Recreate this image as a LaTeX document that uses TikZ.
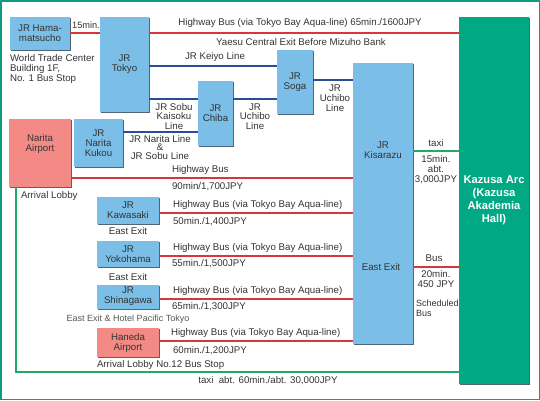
\documentclass[tikz,border=0pt]{standalone}
\usepackage{fontspec}
\setmainfont{Liberation Sans}
\usetikzlibrary{shadows}
\definecolor{jrblue}{HTML}{7BBEE8}
\definecolor{shadowc}{HTML}{4F6579}
\definecolor{pinkbox}{HTML}{F38A86}
\definecolor{redline}{HTML}{D8363F}
\definecolor{blueline}{HTML}{2B4C9B}
\definecolor{greenbox}{HTML}{00A884}
\definecolor{greenline}{HTML}{1FAA66}
\definecolor{frame}{HTML}{0E9C7E}
\definecolor{txt}{HTML}{333333}
\definecolor{txtl}{HTML}{555555}
\begin{document}
\begin{tikzpicture}[x=1pt,y=-1pt,
  every node/.style={inner sep=0pt,outer sep=0pt,text=txt,font=\fontsize{9.7}{10}\selectfont,align=center},
  boxbase/.style={draw=none,drop shadow={shadow xshift=1pt,shadow yshift=-1pt,fill=shadowc,opacity=1}},
  jrbox/.style={boxbase,fill=jrblue},
  pkbox/.style={boxbase,fill=pinkbox},
  redl/.style={draw=redline,line width=2.3pt},
  bluel/.style={draw=blueline,line width=2pt},
  greenl/.style={draw=greenline,line width=2pt},
  lleft/.style={anchor=west,align=left}]
\useasboundingbox (0,0) rectangle (540,400);
\draw[frame,line width=1.5pt] (0.75,0.75) rectangle (539.25,399.25);

% boxes
\node[jrbox,minimum width=60pt,minimum height=33pt] (hama) at (40,33.5) {JR Hama-\\matsucho};
\node[jrbox,minimum width=49pt,minimum height=95pt] (tokyo) at (124.5,64.5) {JR\\Tokyo};
\node[jrbox,minimum width=36pt,minimum height=64pt] (soga) at (295,82) {JR\\Soga};
\node[jrbox,minimum width=35pt,minimum height=65pt] (chiba) at (215.5,113.5) {JR\\Chiba};
\node[jrbox,minimum width=60pt,minimum height=281pt] (kisarazu) at (383,203.5) {};
\node[boxbase,fill=greenbox,minimum width=70pt,minimum height=367pt,text=white,font=\bfseries\fontsize{11.2}{13}\selectfont] (kazusa) at (494,200.5) {Kazusa Arc\\(Kazusa\\Akademia\\Hall)};
\node[pkbox,minimum width=62pt,minimum height=68pt] (narita) at (40,153) {};
\node[jrbox,minimum width=49pt,minimum height=48pt] (kukou) at (98.5,143) {JR\\Narita\\Kukou};
\node[jrbox,minimum width=62pt,minimum height=27pt] (kawasaki) at (128,210.5) {JR\\Kawasaki};
\node[jrbox,minimum width=62pt,minimum height=26pt] (yokohama) at (128,254) {JR\\Yokohama};
\node[jrbox,minimum width=62pt,minimum height=24pt] (shinagawa) at (128,296.5) {JR\\Shinagawa};
\node[pkbox,minimum width=62pt,minimum height=29pt] (haneda) at (128,342.5) {Haneda\\Airport};

% texts inside tall boxes
\node (naritat) at (40,144) {Narita\\Airport};
\node (kist) at (383,150) {JR\\Kisarazu};
\node (kise) at (381,267) {East Exit};

% connectors
\draw[redl] (hama.east |- {0,33}) -- (tokyo.west |- {0,33});
\draw[redl] (tokyo.east |- {0,33}) -- (kazusa.west |- {0,33});
\draw[bluel] (tokyo.east |- {0,66}) -- (soga.west |- {0,66});
\draw[bluel] (tokyo.east |- {0,99}) -- (chiba.west |- {0,99});
\draw[bluel] (chiba.east |- {0,99}) -- (soga.west |- {0,99});
\draw[bluel] (soga.east |- {0,80}) -- (kisarazu.west |- {0,80});
\draw[bluel] (kukou.east |- {0,132}) -- (chiba.west |- {0,132});
\draw[redl] (narita.east |- {0,178}) -- (kisarazu.west |- {0,178});
\draw[greenl] (kisarazu.east |- {0,151}) -- (kazusa.west |- {0,151});
\draw[redl] (kisarazu.east |- {0,267}) -- (kazusa.west |- {0,267});
\draw[redl] (kawasaki.east |- {0,213}) -- (kisarazu.west |- {0,213});
\draw[redl] (yokohama.east |- {0,256}) -- (kisarazu.west |- {0,256});
\draw[redl] (shinagawa.east |- {0,299}) -- (kisarazu.west |- {0,299});
\draw[redl] (haneda.east |- {0,341}) -- (kisarazu.west |- {0,341});
\draw[greenl] (narita.south -| {16,0}) -- (16,372) -- (kazusa.west |- {0,372});

% labels
\node[font=\fontsize{9.2}{10}\selectfont] (l15) at (86,25) {15min.};
\node (lhw1) at (300,23) {Highway Bus (via Tokyo Bay Aqua-line) 65min./1600JPY};
\node (lyae) at (301,42) {Yaesu Central Exit Before Mizuho Bank};
\node (lkei) at (215,57) {JR Keiyo Line};
\node[font=\fontsize{9.7}{9.5}\selectfont] (lsobu) at (174,116.5) {JR Sobu\\Kaisoku\\Line};
\node[font=\fontsize{9.7}{9.5}\selectfont] (luch1) at (255,116.5) {JR\\Uchibo\\Line};
\node[font=\fontsize{9.7}{10}\selectfont] (luch2) at (335,98) {JR\\Uchibo\\Line};
\node[font=\fontsize{9.7}{8.5}\selectfont] (lnar) at (160,147.5) {JR Narita Line\\\&\\JR Sobu Line};
\node[lleft] (lnhw) at (172,170) {Highway Bus};
\node[lleft] (lnpr) at (172,187) {90min/1,700JPY};
\node[lleft] (lkwhw) at (173,205) {Highway Bus (via Tokyo Bay Aqua-line)};
\node[lleft] (lkwpr) at (173,222) {50min./1,400JPY};
\node[lleft] (lykhw) at (173,248) {Highway Bus (via Tokyo Bay Aqua-line)};
\node[lleft] (lykpr) at (172,264) {55min./1,500JPY};
\node[lleft] (lshhw) at (173,291) {Highway Bus (via Tokyo Bay Aqua-line)};
\node[lleft] (lshpr) at (172,307) {65min./1,300JPY};
\node[lleft] (lhnhw) at (171,333) {Highway Bus (via Tokyo Bay Aqua-line)};
\node[lleft] (lhnpr) at (173,351) {60min./1,200JPY};
\node (ltaxi) at (436,143) {taxi};
\node (ltaxip) at (436,170) {15min.\\abt.\\3,000JPY};
\node (lbus) at (434,258) {Bus};
\node (lbusp) at (436,279.5) {20min.\\450 JPY};
\node[lleft,font=\fontsize{9}{9.5}\selectfont] (lsched) at (416,308.5) {Scheduled\\Bus};
\node[lleft] (lwtc) at (10,69) {World Trade Center\\Building 1F,\\No. 1 Bus Stop};
\node[lleft] (larr) at (21,196) {Arrival Lobby};
\node (lkwe) at (128,231) {East Exit};
\node (lyke) at (128,277) {East Exit};
\node[text=txtl,font=\fontsize{9}{10}\selectfont] (lshe) at (128,319) {East Exit \& Hotel Pacific Tokyo};
\node[lleft] (lhne) at (97,365) {Arrival Lobby No.12 Bus Stop};
\node (lbigtaxi) at (268,381) {taxi\ \ abt. 60min./abt. 30,000JPY};
\end{tikzpicture}
\end{document}
